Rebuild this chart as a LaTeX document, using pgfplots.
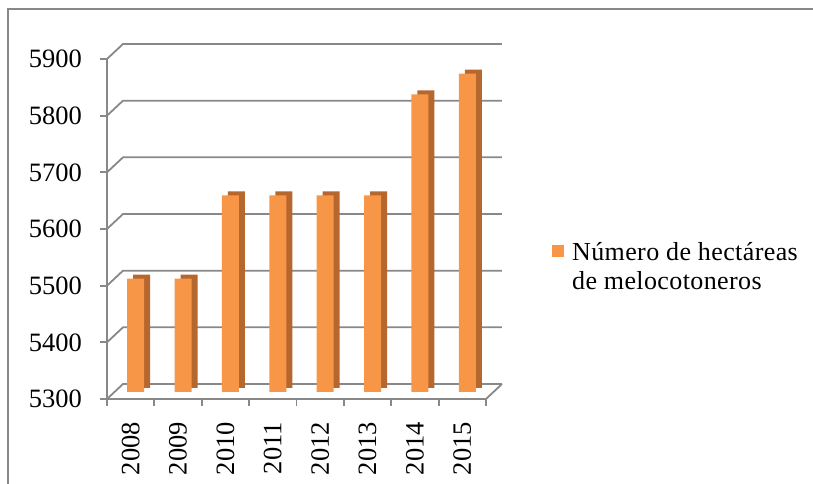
\documentclass[border=0pt]{standalone}
\usepackage{fontspec}
\setmainfont{Liberation Serif}
\usepackage{pgfplots}
\pgfplotsset{compat=1.18}
\definecolor{barfront}{HTML}{F79646}
\definecolor{barside}{HTML}{B5672E}
\definecolor{gridc}{HTML}{888888}
\begin{document}
\begin{tikzpicture}
\useasboundingbox (0pt,0pt) rectangle (813pt,484pt);
\draw[gridc, line width=1.5pt] (8pt,0pt) -- (8pt,475pt) -- (813pt,475pt);
\begin{axis}[
  clip=false,
  at={(107pt,85pt)}, anchor=south west,
  scale only axis, width=379pt, height=340pt,
  xmin=-0.5, xmax=7.5, ymin=5300, ymax=5900,
  axis x line*=bottom, axis y line*=left,
  axis line style={gridc, line width=1.8pt, -},
  xtick={0,1,2,3,4,5,6,7},
  xticklabels={2008,2009,2010,2011,2012,2013,2014,2015},
  major x tick style={draw=none},
  minor xtick={-0.5,0.5,1.5,2.5,3.5,4.5,5.5,6.5,7.5},
  minor tick length=7pt,
  ytick={5300,5400,5500,5600,5700,5800,5900},
  major tick length=7pt,
  tick align=outside,
  tick style={gridc, line width=1.8pt},
  /pgf/number format/.cd, 1000 sep={}, assume math mode=true, /pgfplots/.cd,
  tick label style={font=\fontsize{26.5}{30}\selectfont, inner sep=0pt},
  yticklabel shift=18pt,
  xticklabel style={rotate=90, anchor=east},
  xticklabel shift=16pt,
  legend style={draw=none, fill=none, at={(1.174,0.467)}, anchor=north west,
    font=\fontsize{26}{29}\selectfont\addfontfeature{LetterSpace=1.5},
    cells={align=left}, inner sep=0pt},
  legend image code/.code={\fill[barfront] (0pt,3pt) rectangle (12pt,15pt); \path (18pt,0pt);},
]
\pgfplotsinvokeforeach{5300,5400,5500,5600,5700,5800,5900}{
  \draw[gridc, line width=1.8pt] (axis cs:-0.5,#1) -- ++(16pt,15pt) -- ([shift={(16pt,15pt)}]axis cs:7.5,#1);
}
\draw[gridc, line width=1.8pt] (axis cs:7.5,5300) -- ++(16pt,15pt);
\addplot[ybar, bar width=17pt, bar shift=11pt, yshift=11pt, fill=barside, draw=none, forget plot]
  coordinates {(0,5500) (1,5500) (2,5647) (3,5647) (4,5647) (5,5647) (6,5825) (7,5862)};
\addplot[ybar, bar width=17pt, bar shift=5pt, yshift=7pt, fill=barfront, draw=none]
  coordinates {(0,5500) (1,5500) (2,5647) (3,5647) (4,5647) (5,5647) (6,5825) (7,5862)};
\addlegendentry{Número de hectáreas\\de melocotoneros}
\end{axis}
\end{tikzpicture}
\end{document}
